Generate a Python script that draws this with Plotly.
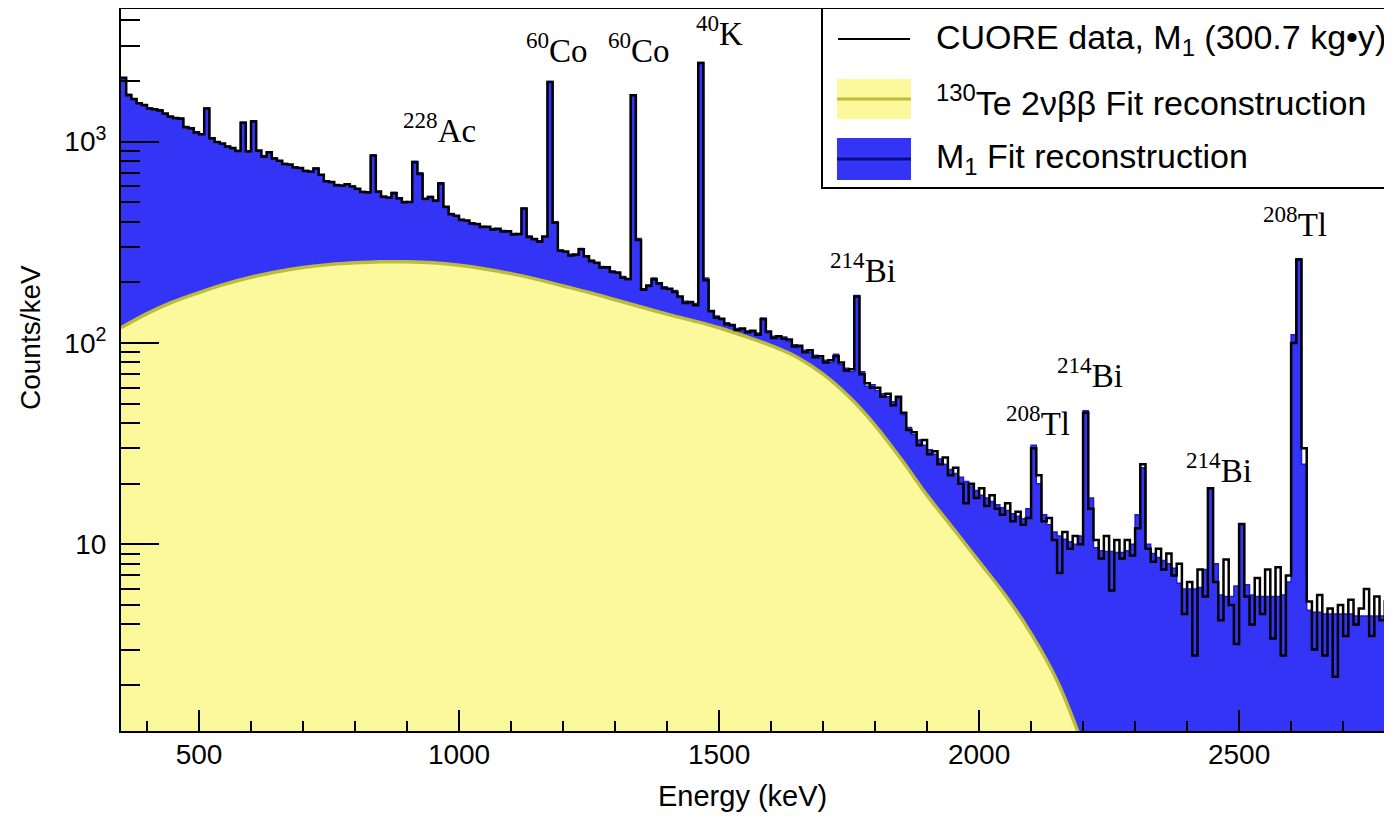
import numpy as np
import plotly.graph_objects as go

# ---------------- data ----------------
BIN_START = 350      # keV, left edge of first bin
BIN_WIDTH = 10       # keV
N_BINS = 245

# M1 fit reconstruction, counts/keV per 10 keV bin (350 ... 2790 keV)
fit_counts = [
    2050, 1720, 1620, 1560, 1510, 1470, 1440, 1440, 1370, 1340,   # 350
    1300, 1310, 1190, 1160, 1120, 1095, 1470, 1030, 1000, 975,    # 450
    950, 925, 905, 1250, 890, 1270, 900, 850, 880, 830,           # 550
    800, 780, 765, 750, 735, 720, 705, 740, 680, 640,             # 650
    625, 612, 603, 612, 600, 580, 566, 556, 860, 560,             # 750
    535, 525, 560, 520, 505, 498, 800, 700, 515, 535,             # 850
    505, 625, 470, 440, 425, 412, 403, 395, 387, 380,             # 950
    375, 370, 366, 362, 356, 350, 345, 467, 340, 325,             # 1050
    322, 335, 1990, 400, 290, 282, 276, 272, 295, 268,            # 1150
    258, 248, 240, 235, 228, 222, 214, 206, 1710, 330,            # 1250
    186, 190, 210, 195, 190, 184, 182, 168, 161, 157,             # 1350
    157, 2470, 210, 142, 136, 130, 126, 121, 118, 116,            # 1450
    115, 113, 112, 133, 112, 108, 106, 107, 102, 98,              # 1550
    95, 92, 90, 87, 84, 82, 80, 88, 78, 75,                       # 1650
    72, 172, 72, 61, 62, 58, 56, 54, 51, 53,                      # 1750
    44, 38, 35, 33, 31, 29.5, 28, 26.5, 25, 23.5,                 # 1850
    22.5, 21.5, 20.5, 19.5, 18.5, 17.5, 17, 16.3, 15.7, 15.2,     # 1950
    14.7, 14.2, 13.8, 13.4, 15, 31, 20, 14, 12.5, 11.5,           # 2050
    11, 10.6, 10.3, 10, 11, 46, 17, 9.6, 9.3, 9.2,                # 2150
    9.2, 9.1, 9.1, 9.3, 10, 14, 24, 10, 9, 8.6,                   # 2250
    8.3, 8.0, 7.6, 6.4, 6.0, 6.0, 6.0, 6.1, 7.5, 19,              # 2350
    8, 5.6, 5.5, 5.5, 6.2, 12.5, 6.3, 5.6, 5.5, 5.5,              # 2450
    5.5, 5.5, 5.5, 5.6, 6.5, 110, 262, 25, 4.7, 4.6,              # 2550
    4.6, 4.5, 4.5, 4.5, 4.5, 4.5, 4.5, 4.4, 4.4, 4.4,             # 2650
    4.4, 4.4, 4.4, 4.3, 4.3,                                      # 2750
]

# CUORE data, M1, counts/keV per 10 keV bin
data_counts = [
    2080, 1700, 1630, 1550, 1520, 1460, 1450, 1430, 1380, 1330,   # 350
    1310, 1300, 1180, 1165, 1110, 1090, 1460, 1040, 995, 980,     # 450
    945, 930, 900, 1240, 895, 1260, 905, 845, 885, 825,           # 550
    805, 775, 770, 745, 740, 715, 710, 735, 685, 635,             # 650
    630, 608, 605, 615, 598, 583, 562, 560, 850, 565,             # 750
    532, 528, 555, 523, 500, 502, 790, 690, 520, 530,             # 850
    510, 620, 475, 436, 428, 408, 406, 392, 390, 377,             # 950
    378, 366, 369, 358, 359, 346, 348, 465, 336, 328,             # 1050
    318, 338, 1980, 395, 287, 285, 272, 275, 292, 270,            # 1150
    255, 250, 237, 238, 225, 224, 211, 208, 1700, 325,            # 1250
    184, 193, 207, 198, 187, 186, 179, 170, 158, 160,             # 1350
    154, 2460, 205, 144, 134, 132, 124, 123, 116, 118,            # 1450
    113, 115, 110, 131, 114, 106, 108, 105, 104, 96,              # 1550
    97, 90, 92, 85, 86, 80, 82, 86, 80, 73,                       # 1650
    74, 170, 70, 63, 60, 60, 54, 56, 49, 54,                      # 1750
    45, 37, 36, 31, 33, 28, 29, 25, 27, 22,                       # 1850
    24, 20, 16, 20, 17, 19, 15.5, 17.5, 15, 14,                   # 1950
    16, 13, 14.5, 12.5, 13.5, 30, 22, 13, 13.5, 10.5,             # 2050
    7.2, 11.5, 9.5, 11, 10, 45, 15, 10.5, 8.5, 11,                # 2150
    5.9, 10.5, 8.5, 10.5, 8.8, 12, 25, 9.5, 8.2, 9.5,             # 2250
    7.5, 9, 7, 8, 4.5, 6.5, 2.8, 7.5, 5.5, 19,                    # 2350
    6.5, 4.2, 8.4, 5, 3.2, 12.6, 5.5, 4, 6.8, 4.5,                # 2450
    7.5, 3.4, 7.7, 2.8, 7, 100, 260, 30, 5.2, 3,                  # 2550
    5.6, 2.8, 4.8, 2.2, 5, 3.5, 5.3, 4, 4.8, 6,                   # 2650
    3.5, 5.5, 4.2, 5.2, 4,                                        # 2750
]

# 130Te 2vbb fit component
tvbb_energy = [350, 400, 450, 500, 550, 600, 650, 700, 750, 800, 850, 900,
               950, 1000, 1050, 1100, 1150, 1200, 1250, 1300, 1350, 1400,
               1450, 1500, 1550, 1600, 1650, 1700, 1750, 1800, 1850, 1900,
               1950, 2000, 2050, 2100, 2150, 2200]
tvbb_counts = [119, 140, 160, 178, 196, 212, 226, 237, 245, 250, 253, 253,
               250, 243, 233, 221, 207, 192, 178, 164, 151, 139,
               129, 119, 108, 97, 85, 70, 54, 39, 26.5, 17.5,
               12.0, 8.2, 5.6, 3.6, 2.1, 1.0]

peak_labels = ["<sup>228</sup>Ac", "<sup>60</sup>Co", "<sup>60</sup>Co", "<sup>40</sup>K",
               "<sup>214</sup>Bi", "<sup>208</sup>Tl", "<sup>214</sup>Bi",
               "<sup>208</sup>Tl", "<sup>214</sup>Bi"]

x_tick_step = 500
y_tick_vals = [10, 100, 1000]
y_tick_text = ["10", "10<sup>2</sup>", "10<sup>3</sup>"]

legend_texts = ["CUORE data, M<sub>1</sub> (300.7 kg\u2022y)",
                "<sup>130</sup>Te 2\u03bd\u03b2\u03b2 Fit reconstruction",
                "M<sub>1</sub> Fit reconstruction"]

# ---------------- geometry / style ----------------
OFF = 8                      # page body margin of the html page
FIG_W, FIG_H = 1384, 807
# plot area in page pixels (reference coordinates)
L, R, T, B = 121, 1392, 9, 731
X_RANGE = [350, 2794]
Y_RANGE = [0.0725, 3.659]

BLUE = "#3434f6"
BLUE_LINE = "#1c1cc8"
YELLOW = "#fbf99b"
OLIVE = "#bcbc3a"
SANS = "Liberation Sans, Arial, sans-serif"
SERIF = "Liberation Serif, Times New Roman, serif"


def pxx(xp):
    return (xp - L) / (R - L)


def pxy(yp):
    return 1 - (yp - T) / (B - T)


edges = [BIN_START + i * BIN_WIDTH for i in range(N_BINS + 1)]
assert len(fit_counts) == N_BINS and len(data_counts) == N_BINS


def step(vals):
    return edges, list(vals) + [vals[-1]]


fig = go.Figure()

sx, sy = step(fit_counts)
fig.add_trace(go.Scatter(x=sx, y=sy, mode="lines", line_shape="hv",
                         line=dict(color=BLUE_LINE, width=1.5),
                         fill="tozeroy", fillcolor=BLUE,
                         name="M1 Fit reconstruction"))

fig.add_trace(go.Scatter(x=tvbb_energy, y=tvbb_counts, mode="lines",
                         line_shape="spline",
                         line=dict(color=OLIVE, width=3.5),
                         fill="tozeroy", fillcolor=YELLOW,
                         name="130Te 2vbb Fit reconstruction"))

dx, dy = step(data_counts)
fig.add_trace(go.Scatter(x=dx, y=dy, mode="lines", line_shape="hv",
                         line=dict(color="black", width=2.5),
                         name="CUORE data, M1 (300.7 kg*y)"))

minor_y = [m * 10 ** k for k in range(0, 4) for m in range(2, 10)]

fig.update_xaxes(range=X_RANGE, tickmode="linear", tick0=0, dtick=x_tick_step,
                 ticks="inside", ticklen=21, tickwidth=2, tickcolor="black",
                 minor=dict(dtick=100, ticks="inside", ticklen=10,
                            tickwidth=2, tickcolor="black", showgrid=False),
                 showline=True, linecolor="black", linewidth=2, mirror=True,
                 showgrid=False, zeroline=False,
                 tickfont=dict(family=SANS, size=28, color="black"),
                 ticklabelstandoff=-3)

fig.update_yaxes(type="log", range=Y_RANGE, tickmode="array",
                 tickvals=y_tick_vals, ticktext=y_tick_text,
                 ticks="inside", ticklen=38, tickwidth=2, tickcolor="black",
                 minor=dict(tickmode="array", tickvals=minor_y, ticks="inside",
                            ticklen=19, tickwidth=2, tickcolor="black",
                            showgrid=False),
                 showline=True, linecolor="black", linewidth=2, mirror=False,
                 showgrid=False, zeroline=False,
                 tickfont=dict(family=SANS, size=28, color="black"),
                 ticklabelstandoff=7)

annotations = []


def note(text, x, y, size, family, xanchor="center", angle=0):
    annotations.append(dict(text=text, x=pxx(x), y=pxy(y), xref="paper",
                            yref="paper", xanchor=xanchor, yanchor="middle",
                            showarrow=False, textangle=angle,
                            font=dict(family=family, size=size, color="black")))


# axis titles
note("Energy (keV)", 742, 796, 29, SANS)
note("Counts/keV", 30, 338, 28, SANS, angle=-90)

# peak labels (pixel centres)
label_pos = [(439, 128), (557, 48), (639, 48), (719, 31), (863, 268),
             (1295, 222), (1090, 373), (1038, 421), (1219, 468)]
for txt, (lx, ly) in zip(peak_labels, label_pos):
    note(txt, lx, ly, 33, SERIF)

# legend texts
for txt, ly in zip(legend_texts, [39, 100, 158]):
    note(txt, 934, ly, 34, SANS, xanchor="left")

shapes = [
    dict(type="rect", xref="paper", yref="paper", x0=pxx(822), x1=pxx(1402),
         y0=pxy(8), y1=pxy(188), line=dict(color="black", width=2),
         fillcolor="white"),
    dict(type="line", xref="paper", yref="paper", x0=pxx(838), x1=pxx(910),
         y0=pxy(39), y1=pxy(39), line=dict(color="black", width=2)),
    dict(type="rect", xref="paper", yref="paper", x0=pxx(837), x1=pxx(911),
         y0=pxy(79), y1=pxy(119), line=dict(width=0), fillcolor=YELLOW),
    dict(type="line", xref="paper", yref="paper", x0=pxx(837), x1=pxx(911),
         y0=pxy(99), y1=pxy(99), line=dict(color=OLIVE, width=3)),
    dict(type="rect", xref="paper", yref="paper", x0=pxx(837), x1=pxx(911),
         y0=pxy(138), y1=pxy(180), line=dict(width=0), fillcolor=BLUE),
    dict(type="line", xref="paper", yref="paper", x0=pxx(837), x1=pxx(911),
         y0=pxy(159), y1=pxy(159), line=dict(color="#0a0a90", width=3)),
]

fig.update_layout(width=FIG_W, height=FIG_H,
                  margin=dict(l=L - OFF, r=FIG_W - (R - OFF), t=T - OFF,
                              b=FIG_H - (B - OFF), pad=0),
                  paper_bgcolor="white", plot_bgcolor="white",
                  showlegend=False, annotations=annotations, shapes=shapes)

fig.write_html("out.html")
